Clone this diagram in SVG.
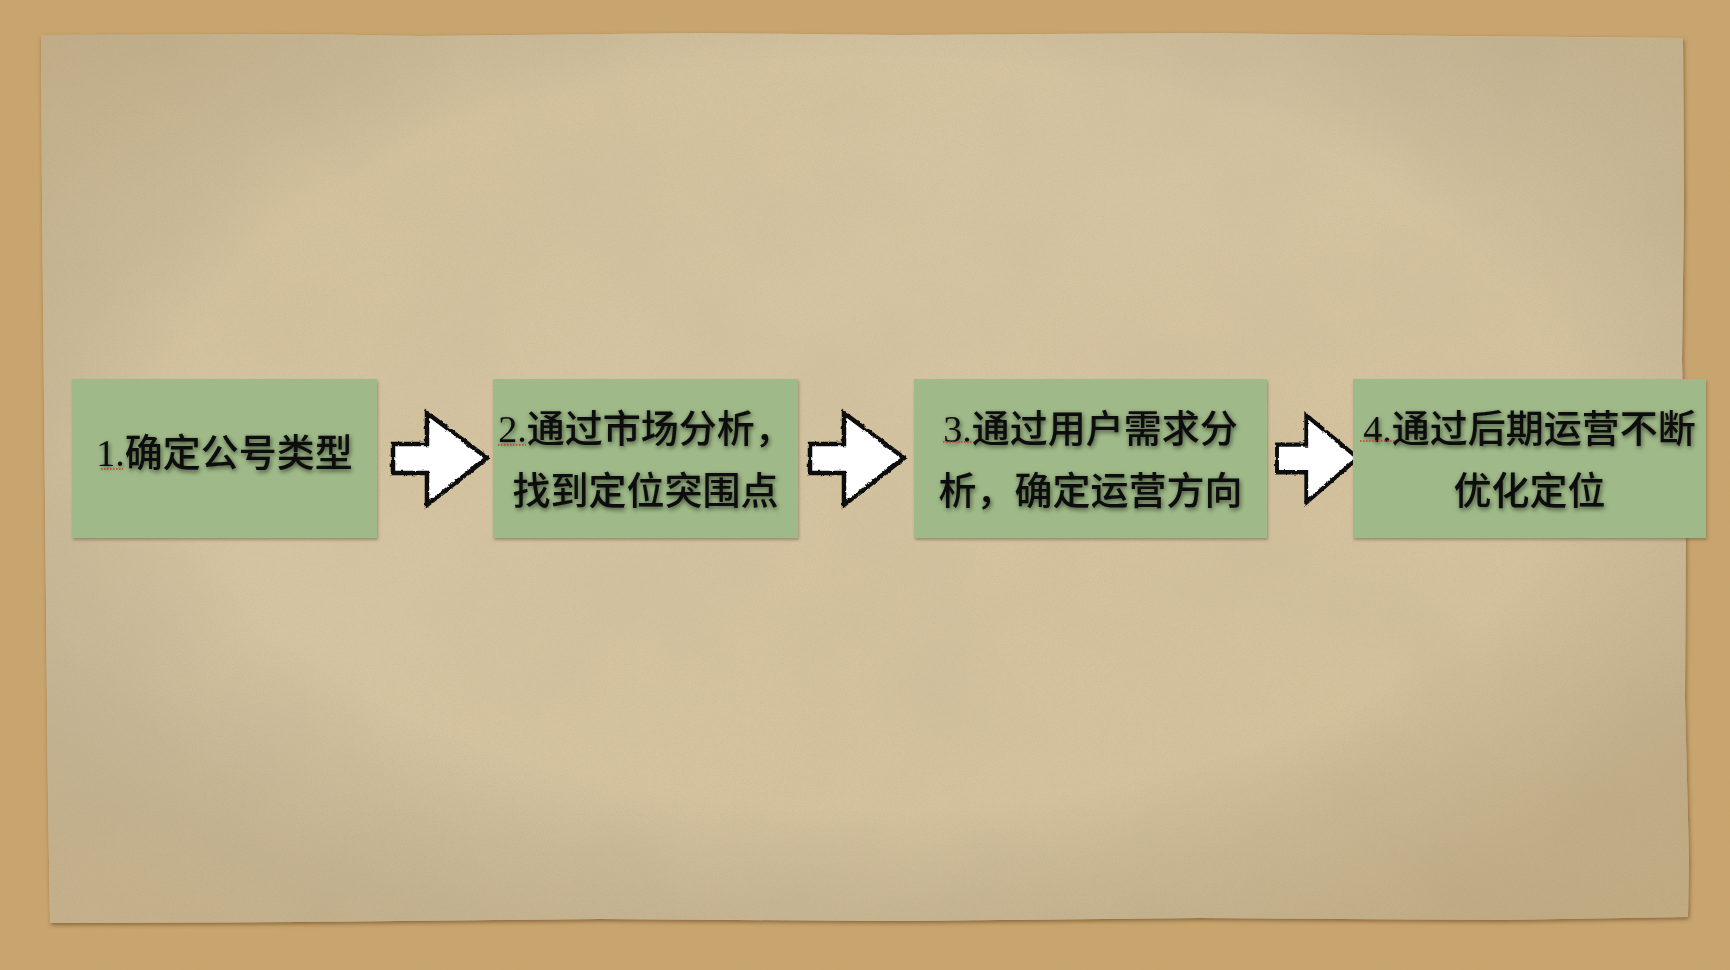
<svg xmlns="http://www.w3.org/2000/svg" width="1730" height="970" viewBox="0 0 1730 970">
<defs>
<filter id="cork" x="0" y="0" width="100%" height="100%">
<feTurbulence type="fractalNoise" baseFrequency="0.8" numOctaves="2" seed="3" result="n"/>
<feColorMatrix in="n" type="matrix" values="0 0 0 0 0.55  0 0 0 0 0.38  0 0 0 0 0.18  2.2 0 0 0 -0.9" result="c"/>
<feComposite in="c" in2="SourceGraphic" operator="atop"/>
</filter>
<filter id="paperTex" x="0" y="0" width="100%" height="100%">
<feTurbulence type="fractalNoise" baseFrequency="0.006" numOctaves="3" seed="7" result="n"/>
<feColorMatrix in="n" type="matrix" values="0 0 0 0 0.6  0 0 0 0 0.5  0 0 0 0 0.32  1.4 0 0 0 -0.55" result="c"/>
<feComposite in="c" in2="SourceGraphic" operator="atop" result="p"/>
<feTurbulence type="fractalNoise" baseFrequency="1.1" numOctaves="1" seed="2" result="g"/>
<feColorMatrix in="g" type="matrix" values="0 0 0 0 0.5  0 0 0 0 0.4  0 0 0 0 0.25  1.2 0 0 0 -0.5" result="gc"/>
<feComposite in="gc" in2="p" operator="atop"/>
</filter>
<filter id="paperShadow" x="-5%" y="-5%" width="110%" height="110%">
<feDropShadow dx="1" dy="2" stdDeviation="2" flood-color="#6b4a22" flood-opacity="0.7"/>
</filter>
<filter id="boxShadow" x="-5%" y="-5%" width="110%" height="115%">
<feDropShadow dx="1" dy="2" stdDeviation="1.5" flood-color="#5a4a30" flood-opacity="0.45"/>
</filter>
<filter id="glow" x="-10%" y="-30%" width="120%" height="160%">
<feGaussianBlur in="SourceAlpha" stdDeviation="2.5" result="b"/>
<feOffset in="b" dx="1" dy="2" result="o"/>
<feComponentTransfer in="o" result="s"><feFuncA type="linear" slope="0.6"/></feComponentTransfer>
<feMerge><feMergeNode in="s"/><feMergeNode in="SourceGraphic"/></feMerge>
</filter>
<filter id="rough" x="-10%" y="-10%" width="120%" height="120%">
<feTurbulence type="fractalNoise" baseFrequency="0.25" numOctaves="2" seed="5" result="t"/>
<feDisplacementMap in="SourceGraphic" in2="t" scale="3" xChannelSelector="R" yChannelSelector="G"/>
</filter>
<linearGradient id="paperGrad" x1="0" y1="0" x2="1" y2="1">
<stop offset="0" stop-color="#d0bd97"/>
<stop offset="0.4" stop-color="#d6c6a4"/>
<stop offset="0.75" stop-color="#d3c09b"/>
<stop offset="1" stop-color="#cbb488"/>
</linearGradient>
<radialGradient id="paperVig" cx="0.5" cy="0.45" r="0.7">
<stop offset="0.6" stop-color="#000" stop-opacity="0"/>
<stop offset="1" stop-color="#7a5a2a" stop-opacity="0.18"/>
</radialGradient>
<path id="arrowShape" d="M0,-14 L34,-14 L34,-45 L94,0 L34,47 L34,15 L0,15 Z"/>
</defs>
<style>
.box{fill:#9fba88;filter:url(#boxShadow);}
.label{font-family:"Noto Sans CJK SC","Noto Sans",sans-serif;font-size:38px;font-weight:500;fill:#0a0a0a;text-anchor:middle;filter:url(#glow);}
.num{font-family:"Liberation Serif",serif;font-weight:400;}
.arrow{fill:#ffffff;stroke:#111;stroke-width:4.5;stroke-linejoin:miter;filter:url(#rough);}
.spell{stroke:#e0302a;stroke-width:1.3;stroke-dasharray:1.5 1.5;fill:none;}
</style>
<g id="background">
<rect x="0" y="0" width="1730" height="970" fill="#c9a46c" filter="url(#cork)"/>
<path d="M41,35 L300,34 L420,36 L700,33 L900,35 L1200,33 L1450,36 L1683,38 L1684,200 L1682,360 L1686,520 L1685,700 L1689,860 L1688,917 L1500,920 L1200,918 L900,921 L600,919 L300,922 L50,923 L48,800 L46,600 L44,400 L42,200 Z" fill="url(#paperGrad)" filter="url(#paperShadow)"/>
<path d="M41,35 L300,34 L420,36 L700,33 L900,35 L1200,33 L1450,36 L1683,38 L1684,200 L1682,360 L1686,520 L1685,700 L1689,860 L1688,917 L1500,920 L1200,918 L900,921 L600,919 L300,922 L50,923 L48,800 L46,600 L44,400 L42,200 Z" fill="#d6c4a0" opacity="0.6" filter="url(#paperTex)"/>
<path d="M41,35 L300,34 L420,36 L700,33 L900,35 L1200,33 L1450,36 L1683,38 L1684,200 L1682,360 L1686,520 L1685,700 L1689,860 L1688,917 L1500,920 L1200,918 L900,921 L600,919 L300,922 L50,923 L48,800 L46,600 L44,400 L42,200 Z" fill="url(#paperVig)"/>
</g>
<g id="connectors">
<use href="#arrowShape" class="arrow" x="393" y="458"/>
<use href="#arrowShape" class="arrow" x="810" y="458"/>
<use href="#arrowShape" transform="translate(1277,458) scale(0.86,0.95)" class="arrow"/>
</g>
<g id="node1">
<rect class="box" x="72" y="379" width="305" height="159"/>
<text class="label" x="224.5" y="466"><tspan class="num">1.</tspan>确定公号类型</text>
<line class="spell" x1="101" y1="469" x2="123" y2="469"/>
</g>
<g id="node2">
<rect class="box" x="493" y="379" width="305" height="159"/>
<text class="label" x="645.5" y="442"><tspan class="num">2.</tspan>通过市场分析，</text>
<text class="label" x="645.5" y="504">找到定位突围点</text>
<line class="spell" x1="498" y1="445" x2="526" y2="445"/>
</g>
<g id="node3">
<rect class="box" x="914" y="379" width="353" height="159"/>
<text class="label" x="1090.5" y="442"><tspan class="num">3.</tspan>通过用户需求分</text>
<text class="label" x="1090.5" y="504">析，确定运营方向</text>
<line class="spell" x1="943" y1="442" x2="973" y2="442"/>
</g>
<g id="node4">
<rect class="box" x="1353" y="379" width="353" height="159"/>
<text class="label" x="1529.5" y="442"><tspan class="num">4.</tspan>通过后期运营不断</text>
<text class="label" x="1529.5" y="504">优化定位</text>
<line class="spell" x1="1360" y1="441" x2="1396" y2="441"/>
</g>
</svg>
